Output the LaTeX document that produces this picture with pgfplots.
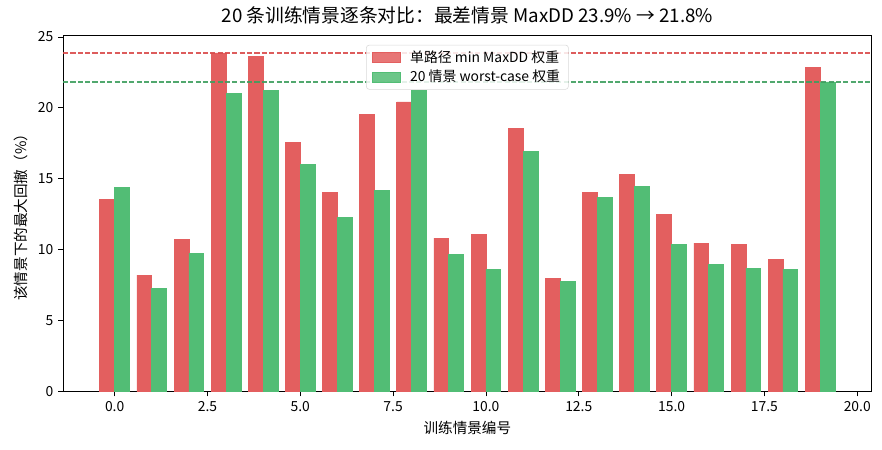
\documentclass[border=0pt]{standalone}
\usepackage{pgfplots}
\pgfplotsset{compat=1.18}
\usepackage{fontspec}
\setmainfont{Noto Sans CJK SC}
\definecolor{barred}{HTML}{E35F5F}
\definecolor{bargreen}{HTML}{52BD75}
\definecolor{linered}{HTML}{D94A4A}
\definecolor{linegreen}{HTML}{3E9E5E}
\begin{document}
\begin{tikzpicture}
\begin{axis}[
  scale only axis,
  width=582.3pt, height=256.1pt,
  xmin=-1.39, xmax=20.39,
  ymin=0, ymax=25.07,
  xtick={0,2.5,5,7.5,10,12.5,15,17.5,20},
  ytick={0,5,10,15,20,25},
  xticklabel style={/pgf/number format/.cd,fixed,fixed zerofill,precision=1},
  /pgf/number format/assume math mode=true,
  tick align=outside, tick pos=left,
  major tick length=3.5pt,
  tick style={black, line width=0.6pt},
  axis line style={line width=0.7pt},
  ticklabel style={font=\fontsize{10}{12}\selectfont},
  xlabel={训练情景编号},
  ylabel={该情景下的最大回撤（\%）},
  label style={font=\fontsize{10.5}{12}\selectfont},
  title={20 条训练情景逐条对比：最差情景 MaxDD 23.9\% → 21.8\%},
  title style={font=\fontsize{13.5}{15}\selectfont, yshift=-1pt},
  legend style={at={(0.5,0.975)}, anchor=north, draw=black!15, rounded corners=2pt,
    fill=white, fill opacity=0.85, text opacity=1,
    font=\fontsize{10}{12}\selectfont, cells={anchor=west}, inner xsep=4pt, inner ysep=2pt, row sep=0pt},
  legend image code/.code={\fill[#1, sharp corners] (0pt,-3.6pt) rectangle (20pt,3.6pt); \path (25pt,0pt);},
]
\addplot[ybar, bar width=0.4, bar shift=-0.2, fill=barred, draw=barred, line width=0.5pt] coordinates {
(0,13.57) (1,8.22) (2,10.75) (3,23.87) (4,23.64) (5,17.58) (6,14.06) (7,19.55) (8,20.42) (9,10.82)
(10,11.10) (11,18.57) (12,8.00) (13,14.06) (14,15.33) (15,12.51) (16,10.47) (17,10.40) (18,9.34) (19,22.86)};
\addlegendentry{单路径 min MaxDD 权重}
\addplot[ybar, bar width=0.4, bar shift=0.2, fill=bargreen, draw=bargreen, line width=0.5pt] coordinates {
(0,14.41) (1,7.30) (2,9.77) (3,21.03) (4,21.24) (5,16.03) (6,12.30) (7,14.20) (8,21.24) (9,9.69)
(10,8.64) (11,16.95) (12,7.79) (13,13.71) (14,14.48) (15,10.40) (16,8.99) (17,8.71) (18,8.64) (19,21.83)};
\addlegendentry{20 情景 worst-case 权重}
\addplot[forget plot, linered, opacity=0.9, line width=1pt, dash pattern=on 3.7pt off 1.6pt] coordinates {(-1.39,23.87) (20.39,23.87)};
\addplot[forget plot, linegreen, opacity=0.9, line width=1pt, dash pattern=on 3.7pt off 1.6pt] coordinates {(-1.39,21.83) (20.39,21.83)};
\coordinate (sw) at (rel axis cs:0,0);
\coordinate (ne) at (rel axis cs:1,1);
\end{axis}
\pgfresetboundingbox
\path (sw) ++(-45.4pt,-42pt) coordinate (a);
\path (ne) ++(7.4pt,25.9pt) coordinate (b);
\path[use as bounding box] (a) rectangle (b);
\end{tikzpicture}
\end{document}
